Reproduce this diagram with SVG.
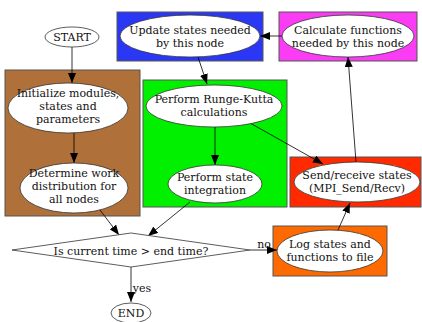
<svg xmlns="http://www.w3.org/2000/svg" width="422" height="322" viewBox="0 0 422 322">
<defs>
<marker id="ah" markerWidth="10" markerHeight="8" refX="10" refY="4" orient="auto" markerUnits="userSpaceOnUse"><path d="M0,0 L10,4 L0,8 Z" fill="#000"/></marker>
<style>
.cl{stroke:#555;stroke-width:1}
.n{fill:#fff;stroke:#333;stroke-width:0.8}
text{font-family:"DejaVu Serif","Liberation Serif",serif;font-size:11px;fill:#111;text-anchor:middle}
.e{stroke:#000;stroke-width:0.8;fill:none;marker-end:url(#ah)}
</style>
</defs>
<rect width="422" height="322" fill="#fff"/>
<g id="clusters">
<rect class="cl" x="5" y="70" width="135" height="146" fill="#b0703a"/>
<rect class="cl" x="117" y="12" width="146" height="49" fill="#2a38f5"/>
<rect class="cl" x="279" y="12" width="138" height="49" fill="#fa3cf5"/>
<rect class="cl" x="143" y="80" width="144" height="127" fill="#00f000"/>
<rect class="cl" x="290" y="157" width="131" height="50" fill="#ff2a00"/>
<rect class="cl" x="273" y="226" width="114" height="50" fill="#ff6a00"/>
</g>
<g id="connectors">
<path class="e" d="M72,47 L72,83"/>
<path class="e" d="M74,133 L74,163"/>
<path class="e" d="M282,36 L260,36"/>
<path class="e" d="M198,57 L207,84"/>
<path class="e" d="M215,127 L215,165"/>
<path class="e" d="M250,123 L323,164"/>
<path class="e" d="M356,162 L348,57"/>
<path class="e" d="M338,230 L350,203"/>
<path class="e" d="M100,210 L119,235"/>
<path class="e" d="M190,202 L148,236"/>
<path class="e" d="M250,250 L277,250"/>
<path class="e" d="M131,267 L131,302"/>
<text x="264" y="248">no</text>
<text x="142" y="292">yes</text>
</g>
<g id="start"><ellipse class="n" cx="72" cy="37" rx="27" ry="10"/><text x="72" y="41">START</text></g>
<g id="init"><ellipse class="n" cx="68" cy="108" rx="60" ry="25"/><text x="68" y="97">Initialize modules,</text><text x="68" y="110">states and</text><text x="68" y="123">parameters</text></g>
<g id="determine"><ellipse class="n" cx="74" cy="188" rx="54" ry="25"/><text x="74" y="177">Determine work</text><text x="74" y="190">distribution for</text><text x="74" y="203">all nodes</text></g>
<g id="update"><ellipse class="n" cx="190" cy="36" rx="70" ry="21"/><text x="190" y="34">Update states needed</text><text x="190" y="47">by this node</text></g>
<g id="calc"><ellipse class="n" cx="348" cy="36" rx="66" ry="21"/><text x="348" y="34">Calculate functions</text><text x="348" y="47">needed by this node</text></g>
<g id="rk"><ellipse class="n" cx="214" cy="106" rx="68" ry="21"/><text x="214" y="103">Perform Runge-Kutta</text><text x="214" y="116">calculations</text></g>
<g id="integ"><ellipse class="n" cx="215" cy="184" rx="47" ry="19"/><text x="215" y="181">Perform state</text><text x="215" y="194">integration</text></g>
<g id="sendrecv"><ellipse class="n" cx="357" cy="182" rx="63" ry="20"/><text x="357" y="179">Send/receive states</text><text x="357" y="192">(MPI_Send/Recv)</text></g>
<g id="log"><ellipse class="n" cx="330" cy="251" rx="53" ry="21"/><text x="330" y="248">Log states and</text><text x="330" y="261">functions to file</text></g>
<g id="decision"><polygon class="n" points="12,250 131,233 250,250 131,267"/><text x="131" y="255">Is current time &gt; end time?</text></g>
<g id="end"><ellipse class="n" cx="131" cy="313" rx="20" ry="10"/><text x="131" y="317">END</text></g>
</svg>
